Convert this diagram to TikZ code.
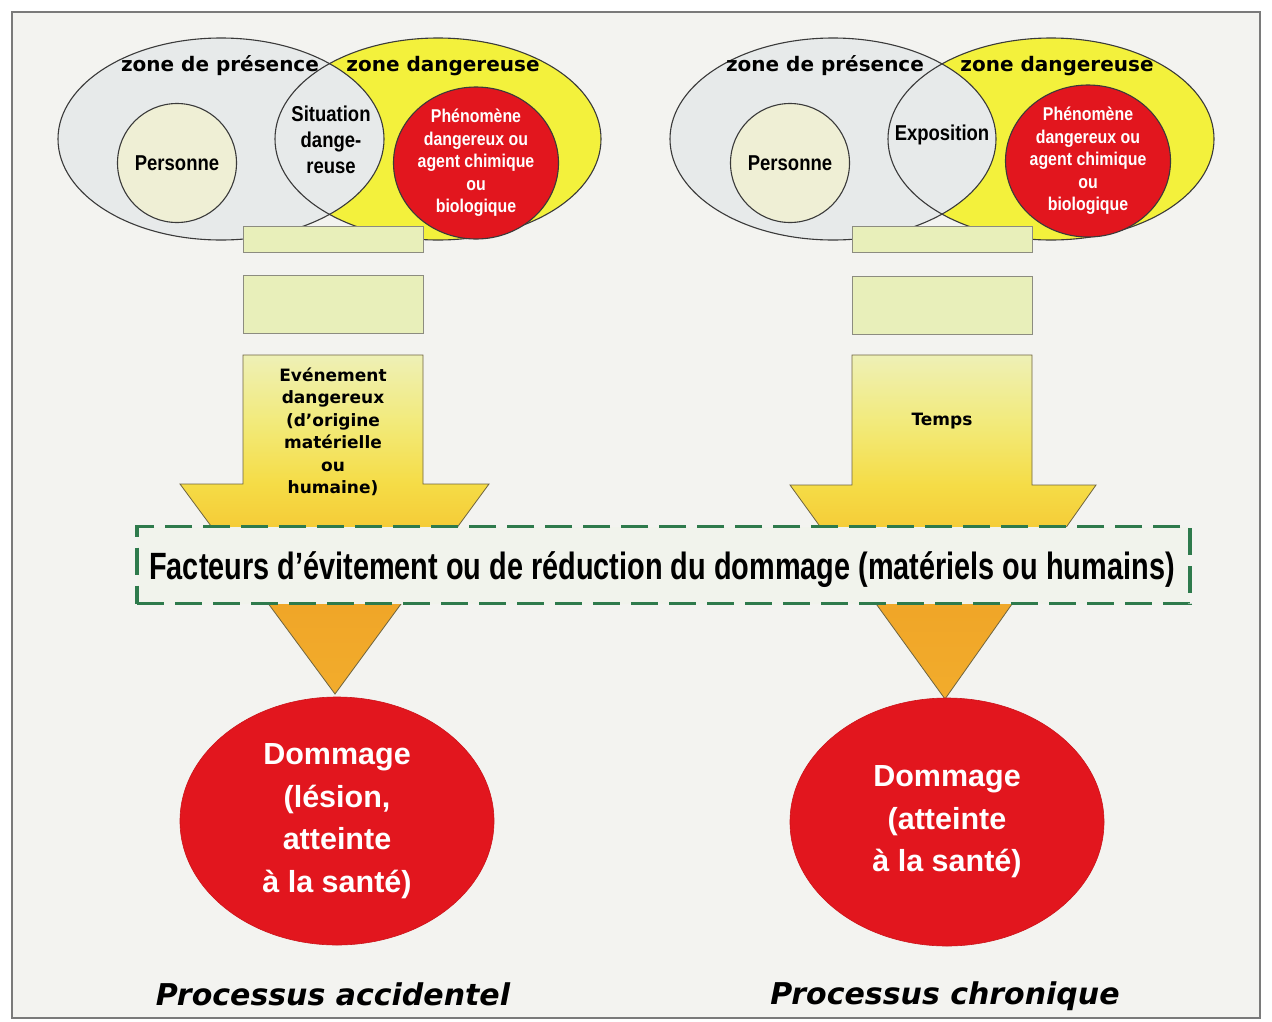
\documentclass[tikz,border=0pt]{standalone}
\usepackage{fontspec}
\setmainfont{Liberation Sans}
\newfontfamily\heavyfont{DejaVu Sans}
\newfontfamily\condfont[FakeStretch=0.86]{Liberation Sans}
\newfontfamily\narrowfont[FakeStretch=0.76]{Liberation Sans}
\usetikzlibrary{shapes.geometric}

\definecolor{paper}{HTML}{F3F3F0}
\definecolor{framegray}{HTML}{7A7A7A}
\definecolor{edgegray}{HTML}{3A3A3A}
\definecolor{zonegray}{HTML}{E7EAEA}
\definecolor{zoneyellow}{HTML}{F3F13C}
\definecolor{personfill}{HTML}{EFEFD5}
\definecolor{hazardred}{HTML}{E2161E}
\definecolor{barfill}{HTML}{E8EFBA}
\definecolor{bargray}{HTML}{8C8C80}
\definecolor{dashgreen}{HTML}{2E7A4C}
\definecolor{boxfill}{HTML}{F1F3EC}
\definecolor{arrowtop}{HTML}{EEF0B6}
\definecolor{arrowlight}{HTML}{F2EA7A}
\definecolor{arrowyellow}{HTML}{F5DC46}
\definecolor{arrowgold}{HTML}{F5CA36}
\definecolor{arroworange}{HTML}{F0A628}
\definecolor{arrowtip}{HTML}{F2AC2C}
\definecolor{arrowedge}{HTML}{6E6440}

% vertical fade of the block arrows: pale at the top, orange at the tip
\pgfdeclareverticalshading{arrowfade}{100bp}{%
  color(0bp)=(arrowtip); color(25bp)=(arrowtip); color(38bp)=(arroworange);
  color(49bp)=(arrowgold); color(56bp)=(arrowyellow); color(65bp)=(arrowlight);
  color(75bp)=(arrowtop); color(100bp)=(arrowtop)}

\tikzset{
  zonefill/.style={ellipse, inner sep=0pt, minimum width=326pt, minimum height=202pt},
  zoneedge/.style={ellipse, inner sep=0pt, minimum width=326pt, minimum height=202pt,
    draw=edgegray, line width=1.1pt},
  zonelabel/.style={font=\heavyfont\bfseries\fontsize{20}{24}\selectfont, inner sep=0pt},
  person/.style={circle, draw=edgegray, line width=1.1pt, fill=personfill,
    minimum size=119pt, inner sep=0pt,
    font=\condfont\bfseries\fontsize{21.5}{26}\selectfont},
  lenslabel/.style={align=center, inner sep=0pt,
    font=\condfont\bfseries\fontsize{21.5}{26}\selectfont},
  hazard/.style={ellipse, draw=edgegray, line width=1.1pt, fill=hazardred,
    minimum width=163pt, minimum height=126pt, inner sep=0pt, align=center,
    text=white, font=\condfont\bfseries\fontsize{18.5}{22.5}\selectfont},
  bar/.style={draw=bargray, line width=1pt, fill=barfill},
  bigarrow/.style={draw=arrowedge, line width=0.8pt, shading=arrowfade},
  arrowtext/.style={align=center, inner sep=0pt,
    font=\heavyfont\bfseries\fontsize{17}{22.5}\selectfont},
  factorbox/.style={draw=dashgreen, fill=boxfill, line width=3.2pt,
    dash pattern=on 27pt off 11pt, inner sep=0pt,
    minimum width=1053pt, minimum height=77pt},
  factortext/.style={inner sep=0pt,
    font=\narrowfont\bfseries\fontsize{38}{44}\selectfont},
  damage/.style={ellipse, fill=hazardred, draw=hazardred!90!black, line width=0.6pt,
    minimum width=314pt, minimum height=248pt, inner sep=0pt, align=center,
    text=white, font=\bfseries\fontsize{30.5}{42.5}\selectfont},
  process/.style={inner sep=0pt,
    font=\heavyfont\bfseries\itshape\fontsize{30}{36}\selectfont}
}

\begin{document}
\begin{tikzpicture}[x=1pt,y=-1pt]
\useasboundingbox (0,0) rectangle (1272,1021);
\fill[white] (0,0) rectangle (1272,1021);
\draw[fill=paper, draw=framegray, line width=1.6pt] (12,12) rectangle (1260,1018);

% ---------- accidental process: overlapping zones ----------
\node[zonefill, fill=zoneyellow] (dangA) at (438,139) {};
\node[zonefill, fill=zonegray] (presA) at (221,139) {};
\node[zoneedge] (dangAedge) at (dangA) {};
\node[zoneedge] (presAedge) at (presA) {};
\node[zonelabel] (zpA) at (220,66) {zone de présence};
\node[zonelabel] (zdA) at (443,66) {zone dangereuse};
\node[person] (persA) at (177,163) {Personne};
\node[lenslabel] (sitA) at (331,140) {Situation\\dange-\\reuse};
\node[hazard] (phenA) at (476,163) {Phénomène\\dangereux ou\\agent chimique\\ou\\biologique};

% ---------- chronic process: overlapping zones ----------
\node[zonefill, fill=zoneyellow] (dangB) at (1051,139) {};
\node[zonefill, fill=zonegray] (presB) at (833,139) {};
\node[zoneedge] (dangBedge) at (dangB) {};
\node[zoneedge] (presBedge) at (presB) {};
\node[zonelabel] (zpB) at (825,66) {zone de présence};
\node[zonelabel] (zdB) at (1057,66) {zone dangereuse};
\node[person] (persB) at (790,163) {Personne};
\node[lenslabel] (expB) at (942,135) {Exposition};
\node[hazard] (phenB) at (1088,161) {Phénomène\\dangereux ou\\agent chimique\\ou\\biologique};

% ---------- stacked bars ----------
\draw[bar] (243,226) rectangle (423,252);
\draw[bar] (243,275) rectangle (423,333);
\draw[bar] (852,226) rectangle (1032,252);
\draw[bar] (852,276) rectangle (1032,334);

% ---------- block arrows ----------
\shade[bigarrow] (243,355) -- (423,355) -- (423,484) -- (489,484) -- (335,694)
  -- (180,484) -- (243,484) -- cycle;
\node[arrowtext] (evtA) at (333,432)
  {Evénement\\dangereux\\(d’origine\\matérielle\\ou\\humaine)};

\shade[bigarrow] (852,355) -- (1032,355) -- (1032,485) -- (1096,485) -- (945,699)
  -- (790,485) -- (852,485) -- cycle;
\node[arrowtext] (tpsB) at (942,421) {Temps};

% ---------- mitigating factors band ----------
\node[factorbox] (facteursbox) at (663.5,565) {};
\node[factortext] (facteurs) at (662,570)
  {Facteurs d’évitement ou de réduction du dommage (matériels ou humains)};

% ---------- outcomes ----------
\node[damage] (domA) at (337,821) {Dommage\\(lésion,\\atteinte\\à la santé)};
\node[damage] (domB) at (947,822) {Dommage\\(atteinte\\à la santé)};

\node[process] (procA) at (333,994) {Processus accidentel};
\node[process] (procB) at (945,996) {Processus chronique};
\end{tikzpicture}
\end{document}
